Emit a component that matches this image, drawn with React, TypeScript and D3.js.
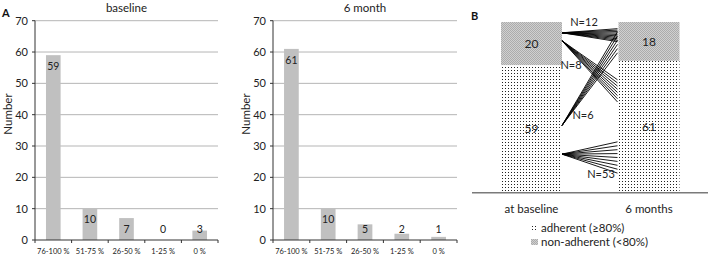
import React from "react";
import * as d3 from "d3";

const categories = ["76-100 %", "51-75 %", "26-50 %", "1-25 %", "0 %"];
const baselineValues = [59, 10, 7, 0, 3];
const sixMonthValues = [61, 10, 5, 2, 1];
const yTicks = [0, 10, 20, 30, 40, 50, 60, 70];
const panelTitles = ["baseline", "6 month"];

const timepoints = ["at baseline", "6 months"];
const adherent = [59, 61];
const nonAdherent = [20, 18];
const legendLabels = ["adherent (\u226580%)", "non-adherent (<80%)"];

// flows between the two stacked bars (values on the stacked scale)
const flowLabels = ["N=12", "N=8", "N=6", "N=53"];
const flowFrom = [74, 70.3, 31, 17.7];
const flowToHigh = [75.9, 52.2, 74.5, 23.4];
const flowToLow = [69.9, 41.9, 64.7, 8.9];
const flowLines = [10, 8, 6, 9];

const FONT = "Lato, 'Open Sans', sans-serif";

function BarPanel({ x0, x1, title, values }: { x0: number; x1: number; title: string; values: number[] }) {
  const x = d3.scaleBand<string>().domain(categories).range([x0, x1]).paddingInner(0.6).paddingOuter(0.3);
  const xb = d3.scaleBand<string>().domain(categories).range([x0, x1]);
  const y = d3.scaleLinear().domain([0, 70]).range([240, 20.7]);
  return (
    <g fontFamily={FONT}>
      {yTicks.map((t) => (
        <g key={t}>
          {t > 0 && <line x1={x0} x2={x1} y1={y(t)} y2={y(t)} stroke="#b5b5b5" strokeWidth={1} />}
          <line x1={x0 - 3} x2={x0} y1={y(t)} y2={y(t)} stroke="#333" strokeWidth={1} />
          <text x={x0 - 7} y={y(t)} dy="0.35em" textAnchor="end" fontSize={11} fill="#222">{t}</text>
        </g>
      ))}
      {values.map((v, i) => {
        const c = categories[i];
        const top = y(v);
        return (
          <g key={c}>
            <rect x={x(c)} y={top} width={x.bandwidth()} height={y(0) - top} fill="#c0c0c0" />
            <text x={(x(c) as number) + x.bandwidth() / 2} y={Math.min(top + 11, 229)} dy="0.35em" textAnchor="middle" fontSize={10.5} fill="#222">{v}</text>
            <text x={(xb(c) as number) + xb.bandwidth() / 2} y={251} dy="0.35em" textAnchor="middle" fontSize={7.5} fill="#222">{c}</text>
          </g>
        );
      })}
      <line x1={x0} x2={x0} y1={y(70)} y2={y(0)} stroke="#333" strokeWidth={1} />
      <line x1={x0} x2={x1} y1={y(0)} y2={y(0)} stroke="#333" strokeWidth={1} />
      {categories.map((c) => (
        <line key={c} x1={(xb(c) as number)} x2={(xb(c) as number)} y1={y(0)} y2={y(0) + 3} stroke="#333" strokeWidth={1} />
      ))}
      <line x1={x1} x2={x1} y1={y(0)} y2={y(0) + 3} stroke="#333" strokeWidth={1} />
      <text x={(x0 + x1) / 2} y={8} dy="0.35em" textAnchor="middle" fontSize={11.5} fill="#222">{title}</text>
      <text transform={`translate(${x0 - 27},114) rotate(-90)`} dy="0.35em" textAnchor="middle" fontSize={11.5} fill="#222">Number</text>
    </g>
  );
}

export default function App() {
  const yB = d3.scaleLinear().domain([0, 79]).range([192.3, 22]);
  const xB = d3.scalePoint<string>().domain(timepoints).range([531.5, 649]);
  const bw = 61;
  const leftEdge = (xB(timepoints[0]) as number) + bw / 2;
  const rightEdge = (xB(timepoints[1]) as number) - bw / 2 - 1;
  const labelX = [584, 571, 583, 601];
  const labelV = [79, 58.8, 35.8, 8.5];
  return (
    <svg width={709} height={257} style={{ position: "absolute", left: 0, top: 0 }}>
      <defs>
        <pattern id="dots" width={3} height={3} patternUnits="userSpaceOnUse">
          <rect width={3} height={3} fill="#fff" />
          <rect x={1} y={1} width={1} height={1} fill="#222" />
        </pattern>
        <pattern id="grayp" width={2} height={2} patternUnits="userSpaceOnUse">
          <rect width={2} height={2} fill="#d0d0d0" />
          <rect x={0} y={0} width={1} height={1} fill="#acacac" />
          <rect x={1} y={1} width={1} height={1} fill="#acacac" />
        </pattern>
      </defs>
      <rect width={709} height={257} fill="#fff" />
      <text x={2} y={17} fontFamily={FONT} fontWeight="bold" fontSize={11} fill="#111">A</text>
      <BarPanel x0={35} x1={218} title={panelTitles[0]} values={baselineValues} />
      <BarPanel x0={273} x1={457} title={panelTitles[1]} values={sixMonthValues} />

      <g fontFamily={FONT}>
        <text x={471} y={20} fontWeight="bold" fontSize={11} fill="#111">B</text>
        {timepoints.map((t, i) => {
          const bx = (xB(t) as number) - bw / 2;
          const a = adherent[i];
          const n = nonAdherent[i];
          return (
            <g key={t}>
              <rect x={bx} y={yB(a)} width={bw} height={yB(0) - yB(a)} fill="url(#dots)" />
              <rect x={bx} y={yB(a + n)} width={bw} height={yB(a) - yB(a + n)} fill="url(#grayp)" />
              <text x={bx + bw / 2} y={(yB(a) + yB(a + n)) / 2} dy="0.35em" textAnchor="middle" fontSize={12} fill="#222">{n}</text>
              <text x={bx + bw / 2} y={(yB(0) + yB(a)) / 2} dy="0.35em" textAnchor="middle" fontSize={12} fill="#222">{a}</text>
              <text x={bx + bw / 2} y={209} dy="0.35em" textAnchor="middle" fontSize={11.5} fill="#222">{t}</text>
            </g>
          );
        })}
        <line x1={472} x2={708} y1={yB(0) + 0.5} y2={yB(0) + 0.5} stroke="#7a7a7a" strokeWidth={1.5} />
        {flowLabels.map((lab, i) => {
          const k = flowLines[i];
          const lines = d3.range(k).map((j) => flowToHigh[i] + ((flowToLow[i] - flowToHigh[i]) * j) / (k - 1));
          return (
            <g key={lab}>
              {lines.map((v, j) => (
                <line key={j} x1={leftEdge} y1={yB(flowFrom[i])} x2={rightEdge} y2={yB(v)} stroke="#000" strokeWidth={0.9} />
              ))}
            </g>
          );
        })}
        {flowLabels.map((lab, i) => (
          <text key={lab} x={labelX[i]} y={yB(labelV[i])} dy="0.35em" textAnchor="middle" fontSize={11} fill="#222">{lab}</text>
        ))}
        <rect x={531} y={225} width={7} height={6} fill="url(#dots)" />
        <text x={541} y={228} dy="0.35em" fontSize={11.5} fill="#222">{legendLabels[0]}</text>
        <rect x={531} y={239} width={7} height={6} fill="url(#grayp)" />
        <text x={541} y={242} dy="0.35em" fontSize={11.5} fill="#222">{legendLabels[1]}</text>
      </g>
    </svg>
  );
}
